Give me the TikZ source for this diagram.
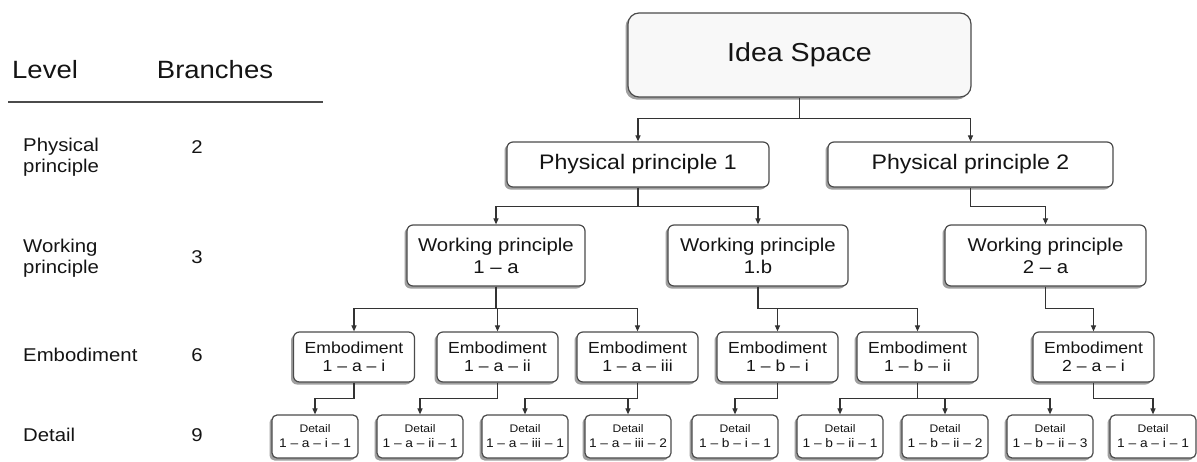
\documentclass[tikz,border=0pt]{standalone}
\usepackage{fontspec}
\setmainfont[FakeStretch=1.1]{Liberation Sans}
\usepackage{xcolor}
\usepackage{tikz}
\usetikzlibrary{shapes,arrows.meta,positioning,calc,shadows}
\definecolor{boxline}{RGB}{75,75,75}
\definecolor{shadowgray}{RGB}{160,160,160}
\definecolor{ideafill}{RGB}{248,248,248}
\definecolor{textgray}{RGB}{20,20,20}
\newcommand{\detnumfont}{\fontsize{12.5}{15}\selectfont}

\begin{document}
\begin{tikzpicture}[
    x=1pt, y=-1pt,
    box/.style={rectangle, draw=boxline, line width=1.2pt, rounded corners=6pt, fill=white, align=center, inner sep=0pt, text=textgray,
        drop shadow={shadow xshift=-2.5pt, shadow yshift=-2.5pt, fill=shadowgray, opacity=1}},
    idea/.style={box, rounded corners=11pt, fill=ideafill, minimum width=343pt, minimum height=84pt, font=\fontsize{26}{30}\selectfont},
    phys/.style={box, minimum height=45pt, font=\fontsize{21}{24}\selectfont},
    work/.style={box, minimum height=61pt, font=\fontsize{18.5}{22}\selectfont},
    embod/.style={box, minimum width=121pt, minimum height=50pt, font=\fontsize{16}{18}\selectfont},
    detail/.style={box, rounded corners=5pt, minimum width=86pt, minimum height=43pt, font=\fontsize{11}{15}\selectfont},
    tablehead/.style={inner sep=0pt, text=textgray, font=\fontsize{25}{28}\selectfont},
    lvltext/.style={anchor=west, align=left, inner sep=0pt, text=textgray, font=\fontsize{18.5}{21}\selectfont},
    branchnum/.style={inner sep=0pt, text=textgray, font=\fontsize{18.5}{21}\selectfont},
    arrow/.style={-{Triangle[length=6pt, width=5pt]}, line width=1.15pt, draw=black!80}
]
\useasboundingbox (0,0) rectangle (1197,461);

% Level table (left)
\node[tablehead, anchor=west] (lvlhead) at (12,70) {Level};
\node[tablehead] (brhead) at (215,70) {Branches};
\draw[line width=1.2pt, boxline] (8,102) -- (323,102);

\node[lvltext] (lvlphys) at (23,157.5) {Physical\\principle};
\node[branchnum] (numphys) at (197,147) {2};
\node[lvltext] (lvlwork) at (23,258) {Working\\principle};
\node[branchnum] (numwork) at (197,257) {3};
\node[lvltext] (lvlemb) at (23,355) {Embodiment};
\node[branchnum] (numemb) at (197,355) {6};
\node[lvltext] (lvldet) at (23,435) {Detail};
\node[branchnum] (numdet) at (197,435) {9};

% Idea space and physical principles
\node[idea] (idea) at (799.5,55) {Idea Space};
\node[phys, minimum width=262pt] (pp1) at (638,164.5) {Physical principle 1};
\node[phys, minimum width=285pt] (pp2) at (970.5,164.5) {Physical principle 2};

% Working principles
\node[work, minimum width=178pt] (wp1a) at (496,255.5) {Working principle\\1 -- a};
\node[work, minimum width=180pt] (wp1b) at (758,255.5) {Working principle\\1.b};
\node[work, minimum width=201pt] (wp2a) at (1045.5,255.5) {Working principle\\2 -- a};

% Embodiments
\node[embod] (e1ai) at (354,357) {Embodiment\\1 -- a -- i};
\node[embod] (e1aii) at (497.5,357) {Embodiment\\1 -- a -- ii};
\node[embod] (e1aiii) at (637.5,357) {Embodiment\\1 -- a -- iii};
\node[embod] (e1bi) at (777.5,357) {Embodiment\\1 -- b -- i};
\node[embod] (e1bii) at (917.5,357) {Embodiment\\1 -- b -- ii};
\node[embod] (e2ai) at (1093.5,357) {Embodiment\\2 -- a -- i};

% Details (bottom row)
\node[detail] (d1ai1) at (315,436.5) {Detail\\{\detnumfont 1 -- a -- i -- 1}};
\node[detail] (d1aii1) at (420,436.5) {Detail\\{\detnumfont 1 -- a -- ii -- 1}};
\node[detail] (d1aiii1) at (525,436.5) {Detail\\{\detnumfont 1 -- a -- iii -- 1}};
\node[detail] (d1aiii2) at (628,436.5) {Detail\\{\detnumfont 1 -- a -- iii -- 2}};
\node[detail] (d1bi1) at (735,436.5) {Detail\\{\detnumfont 1 -- b -- i -- 1}};
\node[detail] (d1bii1) at (840,436.5) {Detail\\{\detnumfont 1 -- b -- ii -- 1}};
\node[detail] (d1bii2) at (945,436.5) {Detail\\{\detnumfont 1 -- b -- ii -- 2}};
\node[detail] (d1bii3) at (1050,436.5) {Detail\\{\detnumfont 1 -- b -- ii -- 3}};
\node[detail] (d2ai1) at (1153,436.5) {Detail\\{\detnumfont 1 -- a -- i -- 1}};

% Idea space -> physical principles
\draw[arrow] (idea.south) -- ++(0,21) -| (pp1.north);
\draw[arrow] (idea.south) -- ++(0,21) -| (pp2.north);

% Physical -> working principles
\draw[arrow] (pp1.south) -- ++(0,19) -| (wp1a.north);
\draw[arrow] (pp1.south) -- ++(0,19) -| (wp1b.north);
\draw[arrow] (pp2.south) -- ++(0,19) -| (wp2a.north);

% Working principles -> embodiments
\draw[arrow] (wp1a.south) -- ++(0,22) -| (e1ai.north);
\draw[arrow] (wp1a.south) -- ++(0,22) -| (e1aii.north);
\draw[arrow] (wp1a.south) -- ++(0,22) -| (e1aiii.north);
\draw[arrow] (wp1b.south) -- ++(0,22) -| (e1bi.north);
\draw[arrow] (wp1b.south) -- ++(0,22) -| (e1bii.north);
\draw[arrow] (wp2a.south) -- ++(0,22) -| (e2ai.north);

% Embodiments -> details
\draw[arrow] (e1ai.south) -- ++(0,16) -| (d1ai1.north);
\draw[arrow] (e1aii.south) -- ++(0,16) -| (d1aii1.north);
\draw[arrow] (e1aiii.south) -- ++(0,16) -| (d1aiii1.north);
\draw[arrow] (e1aiii.south) -- ++(0,16) -| (d1aiii2.north);
\draw[arrow] (e1bi.south) -- ++(0,16) -| (d1bi1.north);
\draw[arrow] (e1bii.south) -- ++(0,16) -| (d1bii1.north);
\draw[arrow] (e1bii.south) -- ++(0,16) -| (d1bii2.north);
\draw[arrow] (e1bii.south) -- ++(0,16) -| (d1bii3.north);
\draw[arrow] (e2ai.south) -- ++(0,16) -| (d2ai1.north);

\end{tikzpicture}
\end{document}
